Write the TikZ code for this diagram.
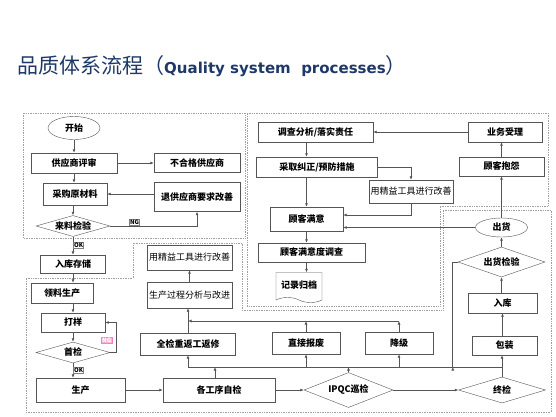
\documentclass[tikz,border=0pt]{standalone}
\usepackage{fontspec}
\setmainfont{Noto Sans CJK SC}
\newfontfamily\latin{DejaVu Sans}
\usepackage{xcolor}
\usepackage{tikz}
\usetikzlibrary{shapes.geometric, shapes.symbols, arrows.meta, positioning}
\definecolor{titleblue}{RGB}{30,56,104}
\definecolor{linegray}{RGB}{85,85,85}
\tikzstyle{box} = [rectangle, minimum width=65pt, minimum height=20pt, inner sep=1pt, text centered, draw=linegray, fill=white, font=\fontsize{9}{10}\selectfont\bfseries]
\tikzstyle{plainbox} = [box, font=\fontsize{9}{10}\selectfont]
\tikzstyle{check} = [diamond, aspect=3.5, inner sep=0pt, text centered, draw=linegray, fill=white, font=\fontsize{9}{10}\selectfont\bfseries]
\tikzstyle{oval} = [ellipse, minimum width=52pt, inner sep=0pt, draw=linegray, fill=white, font=\fontsize{9}{10}\selectfont\bfseries]
\tikzstyle{doc} = [tape, tape bend top=none, tape bend bottom=out and in, tape bend height=5pt, inner sep=1pt, draw=linegray, fill=white, font=\fontsize{9}{10}\selectfont\bfseries]
\tikzstyle{tag} = [draw=gray, fill=white, inner sep=0.7pt, font=\fontsize{6}{6}\selectfont\bfseries]
\tikzstyle{ngtag} = [tag, draw=magenta!50, fill=magenta!30, text=white]
\tikzstyle{zone} = [draw=gray!75, densely dotted, line width=0.7pt]
\tikzstyle{arrow} = [draw=linegray, line width=0.7pt, ->, >={Latex[length=3.5pt,width=3pt]}]
\tikzstyle{line} = [draw=linegray, line width=0.7pt]

\begin{document}
\begin{tikzpicture}[x=1pt, y=1pt]
    \useasboundingbox (0,0) rectangle (556,-416);
    \node (title) [anchor=west, inner sep=0pt, text=titleblue] at (17,-66.5) {\fontsize{21}{21}\selectfont 品质体系流程（{\latin\bfseries\fontsize{15}{15}\selectfont Quality system\ \ processes}）};

    % dotted zones
    \draw [zone] (23,-113) rectangle (245,-238);
    \draw [zone] (247,-113) -- (548,-113) -- (548,-206) -- (440,-206) -- (440,-306) -- (247,-306) -- cycle;
    \draw [zone] (26,-278) -- (133,-278) -- (133,-243) -- (242,-243) -- (242,-310) -- (443,-310) -- (443,-210) -- (551,-210) -- (551,-412) -- (26,-412) -- cycle;

    % supplier side
    \node (start) [oval, minimum height=23pt] at (74,-128) {开始};
    \node (review) [box, below of=start, node distance=35pt, minimum width=86pt] {供应商评审};
    \node (bad) [box, right of=review, node distance=123pt, minimum width=86pt, minimum height=19pt] {不合格供应商};
    \node (retsup) [box, below of=bad, node distance=34pt, minimum width=86pt, minimum height=29pt] {退供应商要求改善};
    \node (buy) [box, below of=review, node distance=31pt, xshift=1pt, minimum width=64pt, minimum height=22pt] {采购原材料};
    \node (incheck) [check, below of=buy, node distance=32pt, xshift=-2pt, minimum width=74pt, minimum height=21pt] {来料检验};
    \node (store) [box, below of=incheck, node distance=38pt, minimum height=18pt] {入库存储};
    \node (pick) [box, below of=store, node distance=29pt, xshift=-11pt, minimum width=62pt] {领料生产};
    \node (sample) [box, below of=store, node distance=58.5pt, minimum width=64pt, minimum height=19pt] {打样};
    \node (first) [check, below of=sample, node distance=30pt, minimum width=74pt, minimum height=21pt] {首检};
    \node (prod) [box, below of=first, node distance=37.5pt, xshift=7.5pt, minimum width=89pt, minimum height=24pt] {生产};

    % production line
    \node (selfchk) [box, right of=prod, node distance=138.5pt, minimum width=112pt, minimum height=24pt] {各工序自检};
    \node (ipqc) [check, right of=selfchk, node distance=129.5pt, minimum width=89pt, minimum height=35pt] {IPQC巡检};
    \node (final) [check, right of=ipqc, node distance=153.5pt, minimum width=87pt, minimum height=26pt] {终检};
    \node (rework) [box, above of=selfchk, node distance=46pt, xshift=-31pt, minimum width=95pt, minimum height=22pt] {全检重返工返修};
    \node (analysis) [plainbox, above of=rework, node distance=49pt, xshift=1.5pt, minimum width=85pt, minimum height=26pt] {生产过程分析与改进};
    \node (tool1) [plainbox, above of=analysis, node distance=37.5pt, minimum width=85pt, minimum height=25pt] {用精益工具进行改善};
    \node (scrap) [box, above of=ipqc, node distance=47pt, xshift=-42.5pt, minimum width=68pt, minimum height=22pt] {直接报废};
    \node (downgrade) [box, right of=scrap, node distance=93pt, minimum width=68pt, minimum height=22pt] {降级};

    % shipping and customer side
    \node (pack) [box, above of=final, node distance=44.5pt, xshift=2.5pt, minimum height=19pt] {包装};
    \node (stock) [box, above of=pack, node distance=42.5pt, xshift=-2pt, minimum width=69pt] {入库};
    \node (outchk) [check, above of=stock, node distance=41pt, xshift=-1pt, minimum width=87pt, minimum height=30pt] {出货检验};
    \node (ship) [oval, above of=outchk, node distance=34.5pt, minimum height=19pt] {出货};
    \node (complain) [box, above of=ship, node distance=61pt, minimum width=85pt, minimum height=19pt] {顾客抱怨};
    \node (accept) [box, above of=complain, node distance=34.5pt, xshift=3.5pt, minimum width=74pt] {业务受理};
    \node (investigate) [box, left of=accept, node distance=189.5pt, minimum width=115pt] {调查分析/落实责任};
    \node (correct) [box, below of=investigate, node distance=35pt, xshift=1.5pt, minimum width=121pt] {采取纠正/预防措施};
    \node (tool2) [plainbox, right of=correct, node distance=94pt, yshift=-24.5pt, minimum width=84pt, minimum height=23pt] {用精益工具进行改善};
    \node (satisfy) [box, below of=correct, node distance=52pt, xshift=-10.5pt, minimum width=73pt, minimum height=24pt] {顾客满意};
    \node (survey) [box, below of=satisfy, node distance=33.5pt, xshift=5pt, minimum width=107pt, minimum height=19pt] {顾客满意度调查};
    \node (archive) [doc, below of=survey, node distance=32.5pt, xshift=-12.5pt, minimum width=46pt, minimum height=30pt] {记录归档};

    \coordinate (busu) at (0,-321);
    \coordinate (busl) at (0,-367);

    \draw [arrow] (start) -- (review);
    \draw [arrow] (review) -- (bad);
    \draw [arrow] (review) -- (review.south |- buy.north);
    \draw [arrow] (retsup.west |- buy) -- (buy.east);
    \draw [arrow] (incheck.north |- buy.south) -- (incheck.north);
    \draw [arrow] (incheck.east) -| node[tag, pos=0.14, above] {NG} (retsup.south);
    \draw [arrow] (incheck) -- node[tag, right] {OK} (store);
    \draw [arrow] (store.south) -- (store.south |- pick.north);
    \draw [arrow] (sample.north |- pick.south) -- (sample.north);
    \draw [arrow] (sample) -- (first);
    \draw [arrow] (first.east) -- ++(6,0) |- node[ngtag, pos=0.21, left, xshift=-4pt] {NG} (sample.east);
    \draw [arrow] (first.south) -- node[tag, right] {OK} (first.south |- prod.north);
    \draw [arrow] (prod) -- (selfchk);
    \draw [arrow] (selfchk) -- (ipqc);
    \draw [arrow] (ipqc) -- (final);
    \draw [arrow] ([xshift=-4pt]selfchk.north) -- ([xshift=-4pt]selfchk.north |- busl);
    \draw [arrow] (ipqc.north) -- (ipqc.north |- busl);
    \draw [line] (rework.south |- busl) -- (final.north |- busl);
    \draw [arrow] (rework.south |- busl) -- (rework.south);
    \draw [arrow] (scrap.south |- busl) -- (scrap.south);
    \draw [arrow] (downgrade.south |- busl) -- (downgrade.south);
    \draw [arrow] (scrap.north) -- (scrap.north |- busu);
    \draw [arrow] (downgrade.north) -- (downgrade.north |- busu);
    \draw [arrow] (downgrade.north |- busu) -- (rework.north |- busu);
    \draw [arrow] (rework.north) -- (rework.north |- analysis.south);
    \draw [arrow] (analysis) -- (tool1);
    \draw [arrow] (final.north) -- (final.north |- pack.south);
    \draw [arrow] (stock.south |- pack.north) -- (stock.south);
    \draw [arrow] (outchk.south |- stock.north) -- (outchk.south);
    \draw [arrow] (outchk) -- (ship);
    \draw [arrow] (outchk.west) -- ++(-5,0) |- ([xshift=-5pt]outchk.west |- busl);
    \draw [arrow] (ship) -- (complain);
    \draw [arrow] (complain) -- (complain |- accept.south);
    \draw [arrow] (accept) -- (investigate);
    \draw [arrow] (investigate.south -| satisfy) -- (correct.north -| satisfy);
    \draw [arrow] (correct.east) -| (tool2.north);
    \draw [arrow] (correct.south -| satisfy) -- (satisfy.north);
    \draw [arrow] (tool2.south) |- ([yshift=4pt]satisfy.east);
    \draw [arrow] (ship.west) -- (ship.west -| satisfy.east);
    \draw [arrow] (satisfy.south) -- (satisfy.south |- survey.north);
    \draw [arrow] (survey.south -| satisfy) -- (archive.north -| satisfy);
\end{tikzpicture}
\end{document}
